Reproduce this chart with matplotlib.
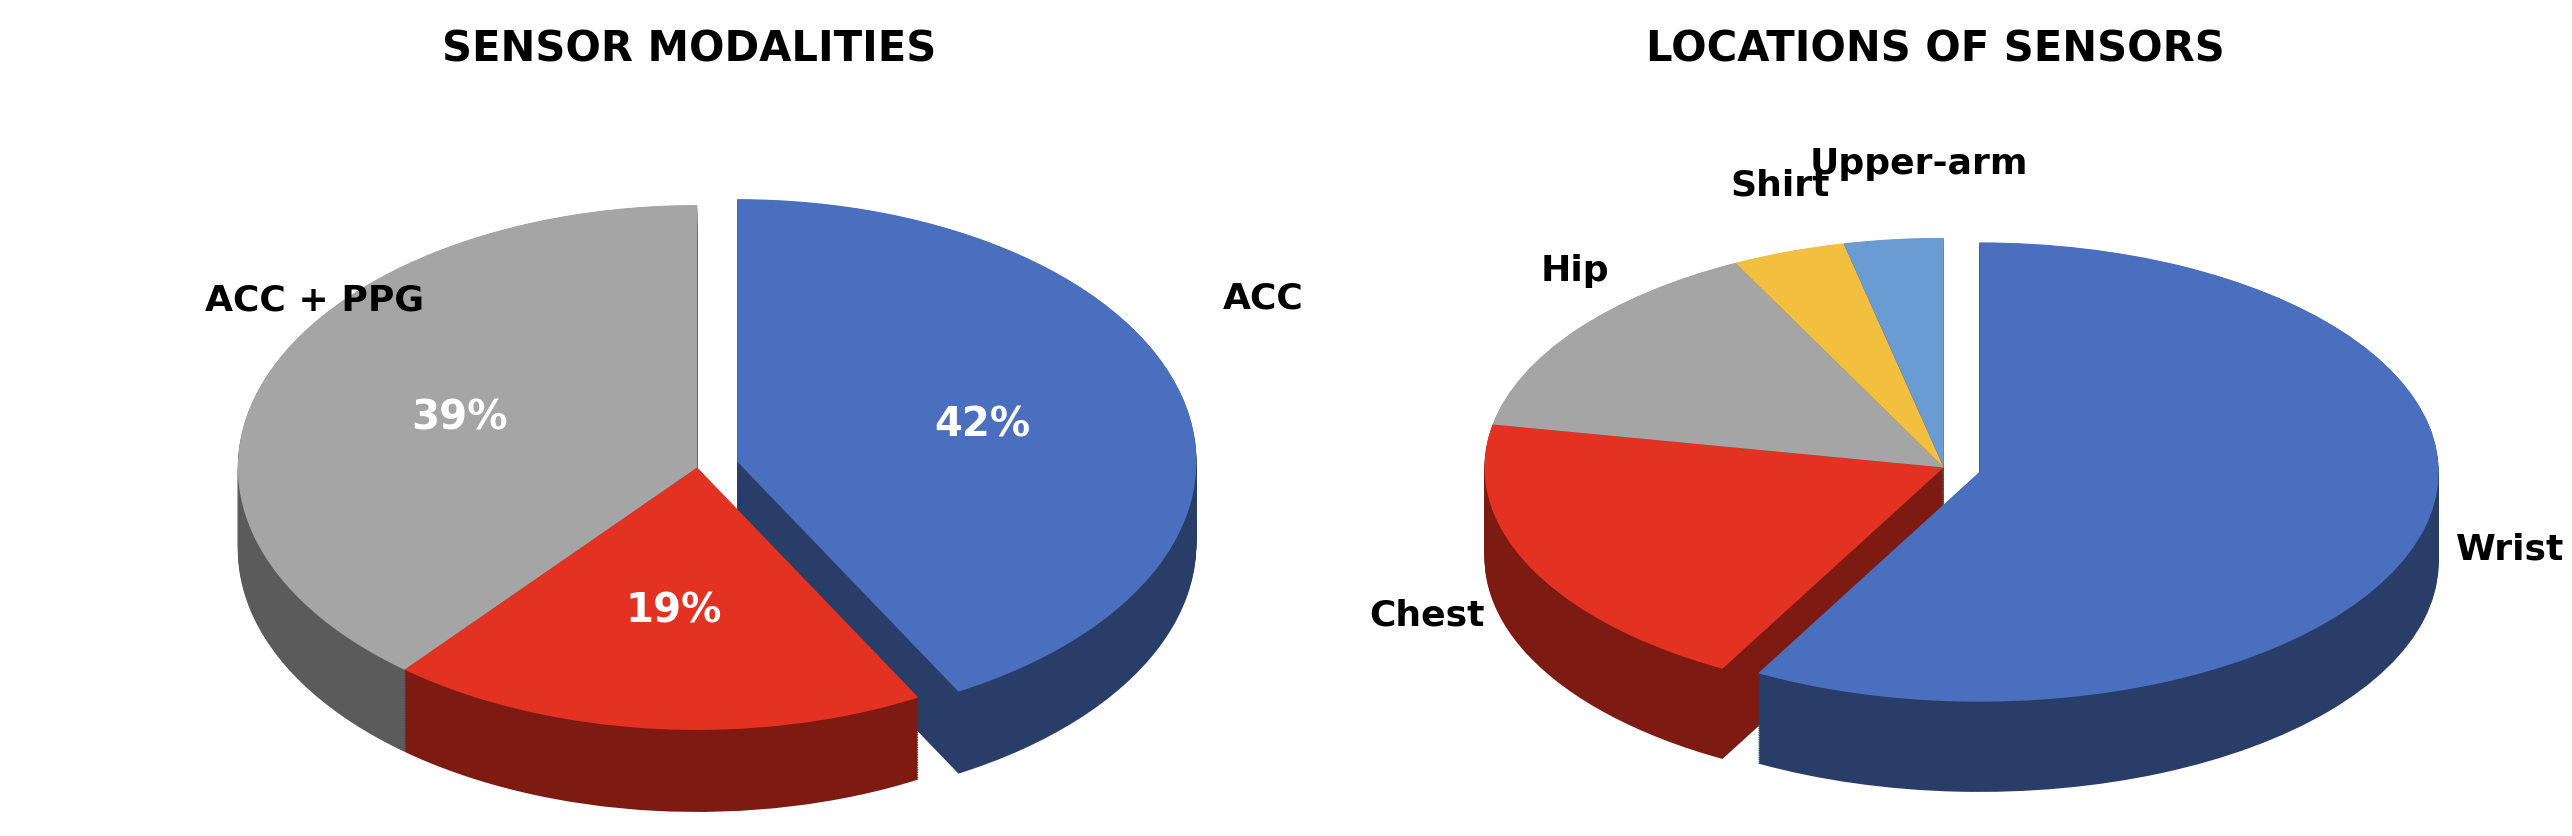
import matplotlib
matplotlib.use("Agg")
import matplotlib.pyplot as plt
import matplotlib.colors as mc
import numpy as np

W, H = 2572, 836
S = 2572 / 1568  # layout was measured on a 1568-wide view

left_labels = ["ACC", "ACC + ECG", "ACC + PPG"]
left_values = [42, 19, 39]
left_colors = ["#4A6FBE", "#E33122", "#A5A5A5"]
left_explode = [0.09, 0, 0]

right_labels = ["Wrist", "Chest", "Hip", "Shirt", "Upper-arm"]
right_values = [58, 20, 14.5, 4, 3.5]
right_colors = ["#4A6FBE", "#E33122", "#A5A5A5", "#F2BF3F", "#6A9BD3"]
right_explode = [0.08, 0, 0, 0, 0]

fig = plt.figure(figsize=(W / 100, H / 100), dpi=100)

def dark(c, f=0.55):
    r, g, b = mc.to_rgb(c)
    return (r * f, g * f, b * f)

def pie3d(cx, cy, rx, ry, depth, values, colors, explode, pct):
    cx, cy, rx, ry, depth = cx * S, cy * S, rx * S, ry * S, depth * S
    m = 1.25
    d = depth / ry
    left = (cx - m * rx) / W
    width = 2 * m * rx / W
    top_px = cy - m * ry
    bot_px = cy + m * ry + depth
    ax = fig.add_axes([left, (H - bot_px) / H, width, (bot_px - top_px) / H])
    for t in np.linspace(d, 0.002, 50):
        ax.pie(values, colors=[dark(c) for c in colors], explode=explode,
               startangle=90, counterclock=False, center=(0, -t),
               wedgeprops=dict(linewidth=0))
    ax.pie(values, colors=colors, explode=explode, startangle=90,
           counterclock=False, center=(0, 0),
           wedgeprops=dict(linewidth=0),
           autopct=(lambda p: f"{p:.0f}%") if pct else None,
           pctdistance=0.55,
           textprops=dict(color="white", fontsize=29, fontweight="bold"))
    ax.set_aspect("auto")
    ax.set_xlim(-m, m)
    ax.set_ylim(-m - d, m)
    ax.axis("off")
    return ax

pie3d(425, 285, 280, 160, 50, left_values, left_colors, left_explode, True)
pie3d(1185, 285, 280, 140, 55, right_values, right_colors, right_explode, False)

def t(x, y, s, **kw):
    fig.text(x * S / W, 1 - y * S / H, s, ha="center", va="center", **kw)

t(420, 30, "SENSOR MODALITIES", fontsize=30, fontweight="bold")
t(1180, 30, "LOCATIONS OF SENSORS", fontsize=30, fontweight="bold")
lk = dict(fontsize=26, fontweight="bold")
t(192, 183, "ACC + PPG", **lk)
t(770, 182, "ACC", **lk)
t(345, 605, "ACC + ECG", **lk)
t(1170, 100, "Upper-arm", **lk)
t(1085, 113, "Shirt", **lk)
t(960, 165, "Hip", **lk)
t(870, 375, "Chest", **lk)
t(1530, 335, "Wrist", **lk)
t(30, 605, "(a)", fontsize=36)
t(838, 605, "(b)", fontsize=36)

fig.savefig("out.png", dpi=100)
